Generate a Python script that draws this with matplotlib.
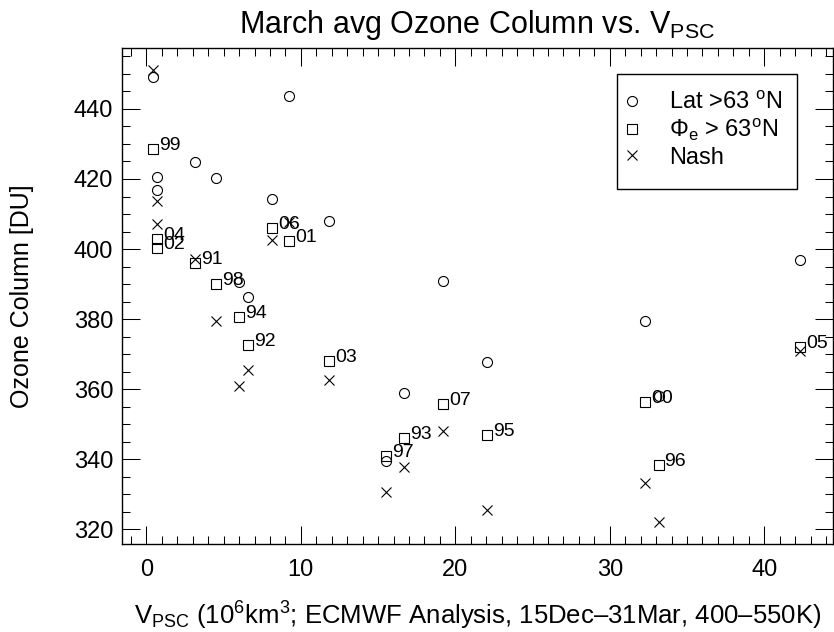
import matplotlib
matplotlib.use("Agg")
import matplotlib.pyplot as plt
from matplotlib.ticker import MultipleLocator
from matplotlib.lines import Line2D
from matplotlib.patches import Rectangle

# winter (Dec-Mar) labels, V_PSC and March mean ozone columns
years = ["91", "92", "93", "94", "95", "96", "97", "98", "99",
         "00", "01", "02", "03", "04", "05", "06", "07"]
vpsc = [3.16, 6.58, 16.7, 6.0, 22.06, 33.16, 15.5, 4.5, 0.41,
        32.3, 9.23, 0.69, 11.85, 0.69, 42.3, 8.15, 19.23]
lat63 = [424.9, 386.2, 358.9, 390.6, 367.8, 358.0, 339.5, 420.4, 449.2,
         379.4, 443.7, 416.9, 408.1, 420.5, 396.9, 414.4, 390.9]
phi63 = [396.0, 372.6, 346.1, 380.7, 346.9, 338.3, 341.0, 390.1, 428.6,
         356.2, 402.4, 400.2, 368.1, 403.0, 372.1, 406.1, 355.9]
nash = [397.2, 365.6, 337.8, 361.0, 325.4, 322.1, 330.7, 379.4, 451.1,
        333.2, 407.7, 407.1, 362.6, 413.7, 371.0, 402.6, 348.0]

plt.rcParams["font.family"] = ["Liberation Sans", "DejaVu Sans"]
plt.rcParams["mathtext.fontset"] = "custom"
plt.rcParams["mathtext.rm"] = "Liberation Sans"
plt.rcParams["mathtext.it"] = "Liberation Sans:italic"
plt.rcParams["mathtext.bf"] = "Liberation Sans:bold"

fig = plt.figure(figsize=(8.34, 6.32), dpi=100)
ax = fig.add_axes([0.1459, 0.1392, 0.8529, 0.7849])

ms = 7.2
mew = 0.8
ax.plot(vpsc, lat63, ls="none", marker="o", ms=ms, mfc="none", mec="black", mew=mew)
ax.plot(vpsc, phi63, ls="none", marker="s", ms=ms, mfc="none", mec="black", mew=mew)
ax.plot(vpsc, nash, ls="none", marker="x", ms=ms, mec="black", mew=mew)

for yr, x, y in zip(years, vpsc, phi63):
    ax.annotate(yr, (x, y), xytext=(4.3, -0.7), textcoords="offset points",
                ha="left", va="baseline", fontsize=14)

ax.set_xlim(-1.6, 44.45)
ax.set_ylim(315.8, 457.4)
ax.xaxis.set_major_locator(MultipleLocator(10))
ax.xaxis.set_minor_locator(MultipleLocator(1))
ax.yaxis.set_major_locator(MultipleLocator(20))
ax.yaxis.set_minor_locator(MultipleLocator(5))
ax.tick_params(which="both", direction="in", top=True, right=True, width=0.75)
ax.tick_params(which="major", length=12.8, labelsize=17)
ax.tick_params(which="minor", length=6)
ax.tick_params(axis="x", which="major", pad=11)
ax.tick_params(axis="y", which="major", pad=6)
for s in ax.spines.values():
    s.set_linewidth(1.0)

ax.set_title(r"March avg Ozone Column vs. V$_{\rm PSC}$", fontsize=22, pad=11)
ax.set_xlabel(r"V$_{\rm PSC}$ ($10^{6}$km$^{3}$; ECMWF Analysis, 15Dec–31Mar, 400–550K)",
              fontsize=18.5)
ax.xaxis.set_label_coords(0.5, -0.113)
ax.set_ylabel("Ozone Column [DU]", fontsize=18)
ax.yaxis.set_label_coords(-0.123, 0.5)

# legend: entries without frame, box drawn separately (IDL-style, extra room below)
handles = [
    Line2D([], [], ls="none", marker="o", ms=ms, mfc="none", mec="black", mew=mew),
    Line2D([], [], ls="none", marker="s", ms=ms, mfc="none", mec="black", mew=mew),
    Line2D([], [], ls="none", marker="x", ms=ms, mec="black", mew=mew),
]
labels = [r"Lat >63 $^{\rm o}$N", r"$\Phi_{\rm e}$ > 63$^{\rm o}$N", "Nash"]
box_l, box_b, box_r, box_t = 0.6968, 0.7151, 0.9498, 0.947
ax.legend(handles, labels, loc="upper left", bbox_to_anchor=(box_l, box_t - 0.008),
          borderaxespad=0, fontsize=17, handlelength=0.13, handletextpad=1.5,
          borderpad=0.57, labelspacing=0.14, frameon=False)
ax.add_patch(Rectangle((box_l, box_b), box_r - box_l, box_t - box_b,
                       transform=ax.transAxes, fill=False, ec="black", lw=1.0, zorder=5))

fig.savefig("out.png", dpi=100)
